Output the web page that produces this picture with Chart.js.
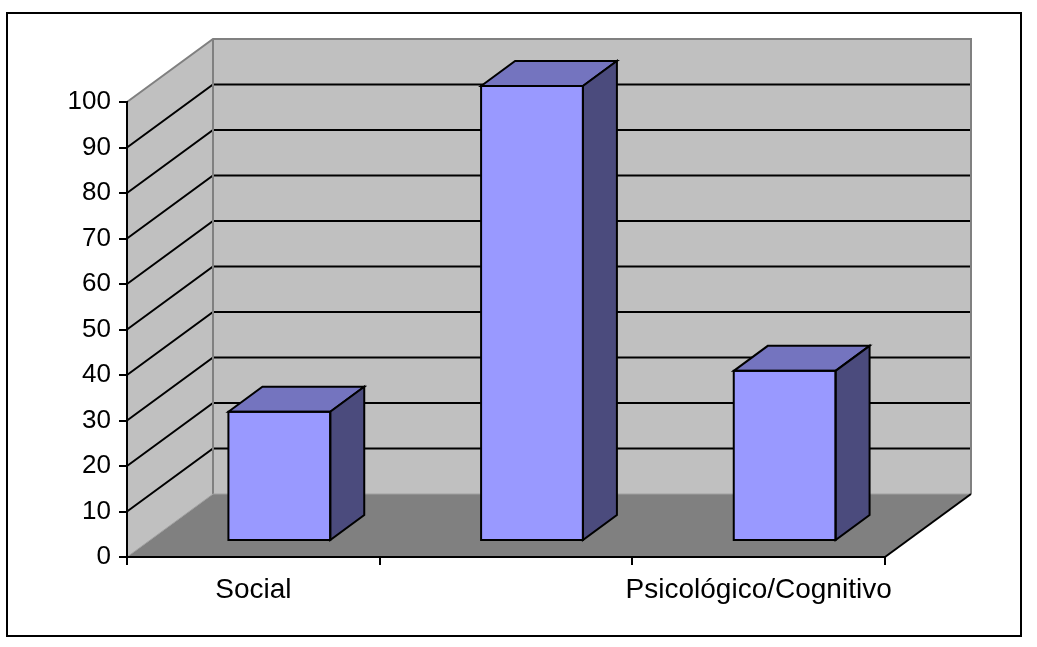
<!DOCTYPE html>
<html>
<head>
<meta charset="utf-8">
<title>Gráfico</title>
<script src="https://cdn.jsdelivr.net/npm/chart.js@4/dist/chart.umd.min.js"></script>
<style>
  html, body { margin: 0; padding: 0; background: #fff; }
  #wrap { position: relative; width: 1037px; height: 647px; }
</style>
</head>
<body>
<div id="wrap"><canvas id="chart"></canvas></div>
<script>
// dados
const categories = ['Social', '', 'Psicológico/Cognitivo'];
const values = [28.4, 100, 37.4];
const yTicks = [0, 10, 20, 30, 40, 50, 60, 70, 80, 90, 100];

// profundidade da "caixa" 3D (parede do fundo e chão)
const DX = 86, DY = -63;
// deslocamento e profundidade das barras
const BAR_SHIFT_X = 26, BAR_SHIFT_Y = -16;
const BAR_DX = 34, BAR_DY = -25;

function poly(ctx, pts) {
    ctx.beginPath();
    ctx.moveTo(pts[0][0], pts[0][1]);
    for (let i = 1; i < pts.length; i++) ctx.lineTo(pts[i][0], pts[i][1]);
    ctx.closePath();
}

const box3d = {
    id: 'box3d',
    beforeDraw(chart) {
        const { ctx, chartArea: a, scales: { y } } = chart;
        const L = a.left, R = a.right, T = a.top, B = a.bottom;
        ctx.save();

        // parede do fundo
        ctx.fillStyle = '#c0c0c0';
        ctx.fillRect(L + DX, T + DY, R - L, B - T);
        // parede lateral
        poly(ctx, [[L, T], [L + DX, T + DY], [L + DX, B + DY], [L, B]]);
        ctx.fill();
        // chão
        ctx.fillStyle = '#808080';
        poly(ctx, [[L, B], [R, B], [R + DX, B + DY], [L + DX, B + DY]]);
        ctx.fill();

        // linhas de grade
        ctx.strokeStyle = '#000';
        ctx.lineWidth = 2;
        ctx.beginPath();
        yTicks.slice(1, -1).forEach(v => {
            const py = y.getPixelForValue(v);
            ctx.moveTo(L, py);
            ctx.lineTo(L + DX, py + DY);
            ctx.lineTo(R + DX, py + DY);
        });
        ctx.stroke();

        // arestas cinzentas
        ctx.strokeStyle = '#808080';
        ctx.beginPath();
        ctx.moveTo(L, T);
        ctx.lineTo(L + DX, T + DY);
        ctx.lineTo(R + DX, T + DY);
        ctx.lineTo(R + DX, B + DY);
        ctx.moveTo(L + DX, T + DY);
        ctx.lineTo(L + DX, B + DY);
        ctx.stroke();
        ctx.lineWidth = 1;
        ctx.strokeStyle = '#a0a0a0';
        ctx.beginPath();
        ctx.moveTo(L, B);
        ctx.lineTo(L + DX, B + DY);
        ctx.lineTo(R + DX, B + DY);
        ctx.stroke();

        // aresta direita do chão
        ctx.strokeStyle = '#000';
        ctx.lineWidth = 2;
        ctx.beginPath();
        ctx.moveTo(R, B);
        ctx.lineTo(R + DX, B + DY);
        ctx.stroke();

        // moldura
        ctx.strokeRect(7, 13, 1014, 623);
        ctx.restore();
    },
    beforeDatasetsDraw(chart) {
        chart.ctx.save();
        chart.ctx.translate(BAR_SHIFT_X, BAR_SHIFT_Y);
    },
    afterDatasetsDraw(chart) {
        const ctx = chart.ctx;
        ctx.lineWidth = 2;
        ctx.strokeStyle = '#000';
        ctx.lineJoin = 'miter';
        chart.getDatasetMeta(0).data.forEach(bar => {
            const { x, y, base, width } = bar.getProps(['x', 'y', 'base', 'width'], true);
            const l = x - width / 2, r = x + width / 2;
            // topo
            poly(ctx, [[l, y], [l + BAR_DX, y + BAR_DY], [r + BAR_DX, y + BAR_DY], [r, y]]);
            ctx.fillStyle = '#7474bf';
            ctx.fill();
            ctx.stroke();
            // lado
            poly(ctx, [[r, y], [r + BAR_DX, y + BAR_DY], [r + BAR_DX, base + BAR_DY], [r, base]]);
            ctx.fillStyle = '#4b4b7d';
            ctx.fill();
            ctx.stroke();
            // frente
            ctx.strokeRect(l, y, r - l, base - y);
        });
        ctx.restore();
    }
};

Chart.defaults.font.family = "'Liberation Sans', Arial, sans-serif";
Chart.defaults.font.size = 26;
Chart.defaults.color = '#000';

new Chart(document.getElementById('chart'), {
    type: 'bar',
    data: {
        labels: categories,
        datasets: [{
            data: values,
            backgroundColor: '#9999ff',
            borderWidth: 0,
            categoryPercentage: 1,
            barPercentage: 0.403,
            clip: false
        }]
    },
    options: {
        responsive: true,
        maintainAspectRatio: false,
        animation: false,
        layout: { padding: { left: 0, top: 102, right: 152, bottom: 0 } },
        plugins: {
            legend: { display: false },
            tooltip: { enabled: false }
        },
        scales: {
            x: {
                afterFit: s => { s.height = 90; },
                grid: { drawOnChartArea: false, color: '#000', lineWidth: 2, tickLength: 8 },
                border: { color: '#000', width: 2 },
                ticks: { maxRotation: 0, minRotation: 0, autoSkip: false, padding: 8, font: { size: 28 } }
            },
            y: {
                min: 0,
                max: 100,
                afterFit: s => { s.width = 127; },
                afterBuildTicks: s => { s.ticks = yTicks.map(v => ({ value: v })); },
                grid: { drawOnChartArea: false, color: '#000', lineWidth: 2, tickLength: 8 },
                border: { color: '#000', width: 2 },
                ticks: { padding: 8 }
            }
        }
    },
    plugins: [box3d]
});
</script>
</body>
</html>
